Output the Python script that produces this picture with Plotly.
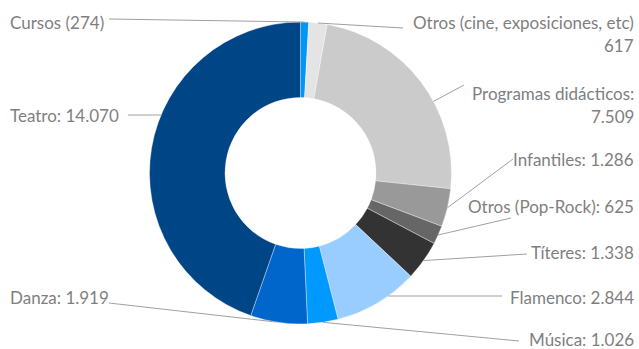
import math
import plotly.graph_objects as go

# Audience by activity type
names = [
    "Cursos",
    "Otros (cine, exposiciones, etc)",
    "Programas didácticos",
    "Infantiles",
    "Otros (Pop-Rock)",
    "Títeres",
    "Flamenco",
    "Música",
    "Danza",
    "Teatro",
]
values = [274, 617, 7509, 1286, 625, 1338, 2844, 1026, 1919, 14070]
label_formats = [
    "{n} ({v})",
    "{n}<br>{v}",
    "{n}:<br>{v}",
    "{n}: {v}",
    "{n}: {v}",
    "{n}: {v}",
    "{n}: {v}",
    "{n}: {v}",
    "{n}: {v}",
    "{n}: {v}",
]
colors = [
    "#0096F5", "#E4E4E4", "#CBCBCB", "#999999", "#666666",
    "#333333", "#99CCFF", "#0099FF", "#0066CC", "#004586",
]

W, H = 639, 349
CX, CY, R = 300.5, 173.0, 151.0
TEXT_COLOR = "#7F7F7F"
LINE_COLOR = "#A0A0A0"
FONT = "Lato"
FONT_SIZE = 17
LINE_GAP = 23

# Label placement in pixels: side, text edge x, first-line centre y,
# leader start, leader mode ("toward" the label or "level" horizontal)
label_layout = [
    ("left", 8, 23, (109, 19), "toward"),
    ("right", 636, 23, (403, 28), "toward"),
    ("right", 636, 93, (464, 85), "toward"),
    ("right", 636, 159, (513, 159), "toward"),
    ("right", 636, 206, (511, 218), "toward"),
    ("right", 636, 252, (527, 254), "toward"),
    ("right", 636, 297, (502, 296), "level"),
    ("right", 636, 339, (519, 341), "toward"),
    ("left", 8, 297, (109, 303), "toward"),
    ("left", 8, 115, (128, 115), "level"),
]


def px(x):
    return x / W


def py(y):
    return 1 - y / H


def fmt_num(v):
    return f"{v:,}".replace(",", ".")


fig = go.Figure(
    go.Pie(
        labels=names,
        values=values,
        hole=0.5,
        sort=False,
        direction="clockwise",
        rotation=0,
        marker=dict(colors=colors, line=dict(color="rgba(255,255,255,0.6)", width=0.6)),
        textinfo="none",
        hoverinfo="label+value",
        showlegend=False,
        domain=dict(x=[px(CX - R), px(CX + R)], y=[py(CY + R), py(CY - R)]),
    )
)

total = sum(values)
annotations = []
shapes = []
start = 0.0
for name, val, tmpl, (side, tx, ty, (lx, ly), mode) in zip(
    names, values, label_formats, label_layout
):
    span = val / total * 360.0
    a0, a1 = start, start + span
    start = a1
    if mode == "level":
        # point on the rim at the leader's height, on the label's side
        base = math.degrees(math.acos(max(-1.0, min(1.0, (CY - ly) / R))))
        direction = base if side == "right" else 360 - base
    else:
        direction = math.degrees(math.atan2(lx - CX, CY - ly)) % 360
    # keep the anchor inside the slice
    margin = min(span / 2, 10.0)
    lo, hi = a0 + margin, a1 - margin
    if lo <= hi:
        ang = min(max(direction, lo), hi)
    else:
        ang = (a0 + a1) / 2
    ex = CX + R * math.sin(math.radians(ang))
    ey = CY - R * math.cos(math.radians(ang))
    shapes.append(
        dict(
            type="line", xref="paper", yref="paper",
            x0=px(lx), y0=py(ly), x1=px(ex), y1=py(ey),
            line=dict(color=LINE_COLOR, width=1),
        )
    )
    text = tmpl.format(n=name, v=fmt_num(val))
    for i, part in enumerate(text.split("<br>")):
        annotations.append(
            dict(
                x=px(tx), y=py(ty + i * LINE_GAP), xref="paper", yref="paper",
                text=part, showarrow=False,
                xanchor="left" if side == "left" else "right",
                yanchor="middle",
                font=dict(family=FONT, size=FONT_SIZE, color=TEXT_COLOR),
            )
        )

fig.update_layout(
    width=W,
    height=H,
    margin=dict(l=0, r=0, t=0, b=0),
    paper_bgcolor="white",
    plot_bgcolor="white",
    annotations=annotations,
    shapes=shapes,
)

fig.write_html("out.html")
